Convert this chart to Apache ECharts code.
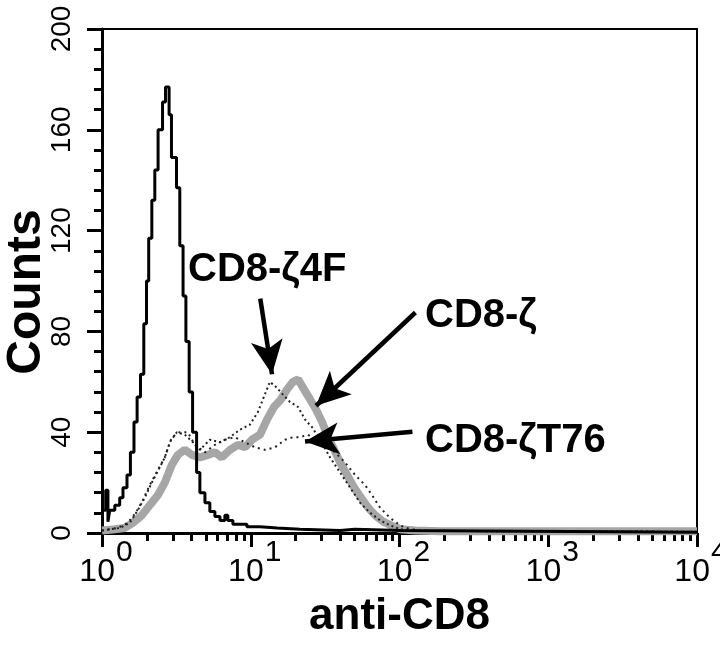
<!DOCTYPE html>
<html>
<head>
<meta charset="utf-8">
<script src="https://cdn.jsdelivr.net/npm/echarts@6/dist/echarts.min.js"></script>
<style>
  html, body { margin: 0; padding: 0; background: #fff; }
  #chart { width: 720px; height: 649px; }
</style>
</head>
<body>
<div id="chart"></div>
<script>
// x values are log10(anti-CD8 fluorescence), counts on y
var decades = [0, 1, 2, 3, 4]
var countTicks = [0, 40, 80, 120, 160, 200]

// control (unstained) histogram, left edges of each channel step
var controlX = [0, 0.025, 0.040, 0.052, 0.086, 0.119, 0.141, 0.168, 0.191, 0.215, 0.236, 0.259, 0.281, 0.299,
  0.314, 0.335, 0.355, 0.377, 0.407, 0.427, 0.451, 0.467, 0.501, 0.523, 0.545, 0.564, 0.586, 0.609, 0.636,
  0.658, 0.692, 0.725, 0.759, 0.793, 0.826, 0.846, 0.880, 0.974, 1.062, 1.178, 1.331, 1.600, 1.700, 2.005, 4]
var controlY = [9, 17, 4.5, 9, 11, 14, 18, 23, 32, 44, 54, 63, 83, 100,
  117, 132, 144, 160, 171, 177, 166, 149, 137, 114, 94, 76, 56, 40, 24,
  16, 12, 8.5, 6.5, 5, 7, 5, 3.5, 2.5, 2, 1.5, 1, 1.5, 1, 0.3, 0.3]

// CD8-zeta
var zetaX = [0, 0.086, 0.153, 0.207, 0.267, 0.321, 0.375, 0.422, 0.469, 0.510, 0.557, 0.604, 0.658, 0.712,
  0.759, 0.806, 0.860, 0.914, 0.961, 1.008, 1.062, 1.109, 1.156, 1.203, 1.244, 1.284, 1.318, 1.358, 1.399,
  1.439, 1.480, 1.520, 1.561, 1.601, 1.648, 1.695, 1.742, 1.790, 1.837, 1.890, 1.944, 2.005, 2.106, 2.274, 4]
var zetaY = [1, 1.5, 2, 4, 7, 11, 15, 20, 27, 31, 33, 31, 30, 31,
  32, 30, 33, 35, 34, 37, 39, 45, 50, 53, 57, 60, 61, 57, 53,
  49, 44, 38, 33, 28, 23, 18, 14, 10, 7, 4.5, 3, 1.5, 1, 0.7, 0.7]

// CD8-zeta 4F
var zeta4FX = [0, 0.119, 0.186, 0.240, 0.287, 0.335, 0.388, 0.422, 0.456, 0.503, 0.557, 0.611, 0.658, 0.725,
  0.793, 0.860, 0.927, 0.994, 1.048, 1.095, 1.129, 1.169, 1.216, 1.264, 1.318, 1.365, 1.412, 1.466, 1.533,
  1.601, 1.668, 1.735, 1.803, 1.870, 1.937, 2.005, 2.140, 4]
var zeta4FY = [1, 2, 4, 9, 14, 20, 26, 30, 36, 40, 39, 36, 33, 37,
  36, 38, 41, 43, 48, 55, 60, 58, 55, 52, 50, 45, 42, 37, 30,
  24, 18, 12, 8, 5, 3, 1.5, 0.8, 0.5]

// CD8-zeta T76
var zetaT76X = [0, 0.106, 0.173, 0.227, 0.274, 0.321, 0.375, 0.422, 0.469, 0.523, 0.577, 0.624, 0.692, 0.759,
  0.826, 0.893, 0.961, 1.028, 1.095, 1.163, 1.230, 1.284, 1.331, 1.385, 1.439, 1.500, 1.567, 1.634, 1.702,
  1.769, 1.816, 1.870, 1.937, 2.005, 2.072, 2.207, 4]
var zetaT76Y = [1, 2, 4, 8, 13, 19, 25, 30, 38, 40, 40, 35, 32, 35,
  37, 38, 36, 34, 33, 34, 37, 38, 38, 39, 37, 35, 32, 28, 23,
  19, 15, 10, 6, 3, 1.5, 0.8, 0.5]

// minor log ticks 2..9 in every decade
var minorTicks = []
decades.slice(0, -1).forEach(function (d) {
  for (var k = 2; k <= 9; k++) minorTicks.push(d + Math.log10(k))
})

function pairs (xs, ys) {
  return xs.map(function (x, i) { return [x, ys[i]] })
}

var sans = 'Liberation Sans'
var annFont = 'bold 40px "Liberation Sans"'

var chart = echarts.init(document.getElementById('chart'), null, { renderer: 'canvas' })
chart.setOption({
  animation: false,
  backgroundColor: '#fff',
  grid: {
    left: 102, right: 23, top: 29, bottom: 116,
    outerBoundsMode: 'none',
    containLabel: false,
    show: true, borderColor: '#000', borderWidth: 2
  },
  xAxis: [{
    type: 'value',
    min: 0, max: 4, interval: 1,
    name: 'anti-CD8',
    nameLocation: 'middle',
    nameGap: 62,
    nameMoveOverlap: false,
    nameTextStyle: { fontFamily: sans, fontWeight: 'bold', fontSize: 44, color: '#000' },
    axisLine: { lineStyle: { color: '#000', width: 3 } },
    axisTick: { inside: false, length: 14, lineStyle: { color: '#000', width: 3 } },
    splitLine: { show: false },
    axisLabel: {
      margin: 5,
      color: '#000',
      formatter: function (v) { return '{b|10}{s|' + v + '}' },
      rich: {
        b: { fontFamily: sans, fontSize: 32, verticalAlign: 'bottom', color: '#000', padding: [0, 0, 0, 8] },
        s: { fontFamily: sans, fontSize: 30, padding: [0, 0, 20, 1], color: '#000' }
      }
    }
  }, {
    type: 'value',
    min: 0, max: 4,
    position: 'bottom',
    axisLine: { show: false },
    axisLabel: { show: false },
    splitLine: { show: false },
    axisTick: { length: 8, customValues: minorTicks, lineStyle: { color: '#000', width: 3 } }
  }],
  yAxis: {
    type: 'value',
    min: 0, max: 200, interval: 40,
    name: 'Counts',
    nameLocation: 'middle',
    nameRotate: 90,
    nameGap: 51,
    nameMoveOverlap: false,
    nameTextStyle: { fontFamily: sans, fontWeight: 'bold', fontSize: 48, color: '#000', padding: [0, 22, 0, 0] },
    axisLine: { show: true, lineStyle: { color: '#000', width: 3 } },
    axisTick: { show: true, length: 15, lineStyle: { color: '#000', width: 3 } },
    minorTick: { show: true, splitNumber: 5, length: 8, lineStyle: { color: '#000', width: 3 } },
    splitLine: { show: false },
    axisLabel: {
      rotate: 90,
      margin: 26,
      fontFamily: sans,
      fontSize: 28,
      color: '#000'
    }
  },
  graphic: [
    { type: 'text', x: 188, y: 270, style: { text: 'CD8-ζ4F', font: annFont, fill: '#000', verticalAlign: 'middle' } },
    { type: 'text', x: 425, y: 316, style: { text: 'CD8-ζ', font: annFont, fill: '#000', verticalAlign: 'middle' } },
    { type: 'text', x: 425, y: 441, style: { text: 'CD8-ζT76', font: annFont, fill: '#000', verticalAlign: 'middle' } }
  ],
  series: [
    {
      name: 'CD8-ζ',
      type: 'line',
      data: pairs(zetaX, zetaY),
      showSymbol: false,
      lineStyle: { color: '#a6a6a6', width: 8 },
      z: 2
    },
    {
      name: 'CD8-ζ4F',
      type: 'line',
      data: pairs(zeta4FX, zeta4FY),
      showSymbol: false,
      lineStyle: { color: '#222', width: 2, type: [2, 3] },
      z: 3
    },
    {
      name: 'CD8-ζT76',
      type: 'line',
      data: pairs(zetaT76X, zetaT76Y),
      showSymbol: false,
      lineStyle: { color: '#222', width: 2, type: [2, 4] },
      z: 3
    },
    {
      name: 'control',
      type: 'line',
      step: 'end',
      data: pairs(controlX, controlY),
      showSymbol: false,
      lineStyle: { color: '#000', width: 3 },
      z: 4,
      markLine: {
        silent: true,
        symbol: ['none', 'arrow'],
        symbolSize: [24, 34],
        label: { show: false },
        lineStyle: { color: '#000', width: 4.5, type: 'solid' },
        data: [
          [{ coord: [1.064, 93] }, { coord: [1.143, 63] }],
          [{ coord: [2.107, 87.5] }, { coord: [1.439, 50.5] }],
          [{ coord: [2.087, 40.2] }, { coord: [1.365, 36.3] }]
        ]
      }
    }
  ]
})
</script>
</body>
</html>
